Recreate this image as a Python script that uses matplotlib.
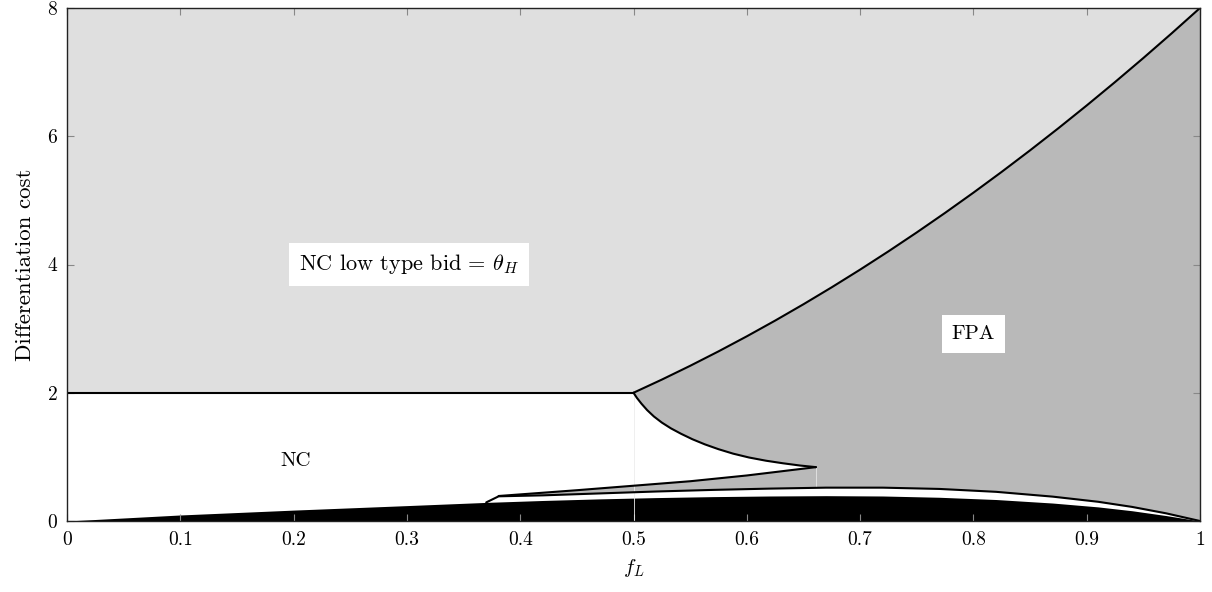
import numpy as np
import matplotlib
matplotlib.use("Agg")
from matplotlib import pyplot as plt

plt.rcParams['font.family'] = 'serif'
plt.rcParams['font.serif'] = ['cmr10']
plt.rcParams['mathtext.fontset'] = 'cm'
plt.rcParams['axes.formatter.use_mathtext'] = True

# upper boundary of FPA region (between the two grays)
fpa_top_x = [0.5, 0.525, 0.55, 0.575, 0.6, 0.625, 0.65, 0.675, 0.7, 0.725, 0.75,
             0.775, 0.8, 0.825, 0.85, 0.875, 0.9, 0.925, 0.95, 0.975, 1.0]
fpa_top_y = [2.0, 2.205, 2.42, 2.645, 2.88, 3.125, 3.38, 3.645, 3.92, 4.205, 4.5,
             4.805, 5.12, 5.445, 5.78, 6.125, 6.48, 6.845, 7.22, 7.605, 8.0]

# left boundary of FPA going down from (0.5, 2)
fpa_left_x = [0.5, 0.503, 0.507, 0.512, 0.518, 0.525, 0.533, 0.542, 0.552, 0.563,
              0.575, 0.588, 0.602, 0.617, 0.632, 0.647, 0.661]
fpa_left_y = [2.0, 1.92, 1.83, 1.73, 1.63, 1.535, 1.445, 1.36, 1.275, 1.195,
              1.12, 1.05, 0.99, 0.94, 0.90, 0.865, 0.84]

# top line of the thin gray wedge
wedge_x = [0.381, 0.45, 0.5, 0.55, 0.6, 0.661]
wedge_y = [0.39, 0.48, 0.55, 0.62, 0.71, 0.84]

# lower boundary of FPA (line above the white band)
low_x = [0.37, 0.381, 0.42, 0.47, 0.52, 0.57, 0.62, 0.67, 0.72, 0.77, 0.82, 0.87,
         0.91, 0.94, 0.97, 1.0]
low_y = [0.29, 0.385, 0.40, 0.43, 0.46, 0.485, 0.505, 0.52, 0.52, 0.50, 0.455, 0.38,
         0.30, 0.22, 0.12, 0.0]

# black region
blk_x = [0.0, 0.1, 0.2, 0.3, 0.37, 0.42, 0.47, 0.52, 0.57, 0.62, 0.67, 0.72, 0.77,
         0.82, 0.87, 0.91, 0.94, 0.97, 1.0]
blk_y = [0.0, 0.094, 0.17, 0.24, 0.29, 0.32, 0.345, 0.365, 0.38, 0.39, 0.395, 0.39,
         0.37, 0.335, 0.28, 0.22, 0.16, 0.085, 0.0]

xticks = [0, 0.1, 0.2, 0.3, 0.4, 0.5, 0.6, 0.7, 0.8, 0.9, 1]
xtick_labels = ['0', '0.1', '0.2', '0.3', '0.4', '0.5', '0.6', '0.7', '0.8', '0.9', '1']
yticks = [0, 2, 4, 6, 8]

light = '#dfdfdf'
dark = '#b9b9b9'

fig = plt.figure(figsize=(12.12, 5.92), dpi=100)
ax = fig.add_axes([67/1212, 1-521/592, (1200-67)/1212, (521-8)/592])

# light gray region: above y=2 and above FPA top curve
lx = [0.0, 0.5] + fpa_top_x[1:] + [0.0]
ly = [2.0, 2.0] + fpa_top_y[1:] + [8.0]
ax.fill(lx, ly, color=light, lw=0)

# dark gray FPA region
gx = fpa_top_x + [1.0] + low_x[::-1][1:-1] + wedge_x + fpa_left_x[::-1]
gy = fpa_top_y + [0.0] + low_y[::-1][1:-1] + wedge_y + fpa_left_y[::-1]
ax.fill(gx, gy, color=dark, lw=0)

# black region
ax.fill_between(blk_x, 0, blk_y, color='black', lw=0)

# faint seams
ax.plot([0.5, 0.5], [0, 2], color='#ececec', lw=0.6)
ax.plot([0.661, 0.661], [0.53, 0.84], color='#e6e6e6', lw=0.6)

# boundaries
kw = dict(color='black', lw=1.5, solid_joinstyle='round', solid_capstyle='round')
ax.plot([0, 0.5], [2, 2], **kw)
ax.plot(fpa_top_x, fpa_top_y, **kw)
ax.plot(fpa_left_x, fpa_left_y, **kw)
ax.plot(wedge_x, wedge_y, **kw)
ax.plot(low_x, low_y, **kw)

box = dict(facecolor='white', edgecolor='none', pad=7)
ax.text(0.302, 4.0, r'NC low type bid = $\theta_H$', ha='center', va='center', fontsize=16, bbox=box)
ax.text(0.8, 2.92, 'FPA', ha='center', va='center', fontsize=15, bbox=box)
ax.text(0.202, 0.94, 'NC', ha='center', va='center', fontsize=15)

ax.set_xlim(0, 1)
ax.set_ylim(0, 8)
ax.set_xticks(xticks)
ax.set_xticklabels(xtick_labels)
ax.set_yticks(yticks)
ax.set_yticklabels([str(v) for v in yticks])
ax.tick_params(direction='in', length=5, width=0.8, color='#888888', labelsize=14,
               top=True, right=True, pad=7)
for s in ax.spines.values():
    s.set_linewidth(1.0)
    s.set_color('#222222')
    s.set_zorder(5)

ax.set_xlabel(r'$f_L$', fontsize=15, labelpad=6)
ax.set_ylabel('Differentiation cost', fontsize=16.5, labelpad=9)

fig.savefig('out.png', dpi=100)
